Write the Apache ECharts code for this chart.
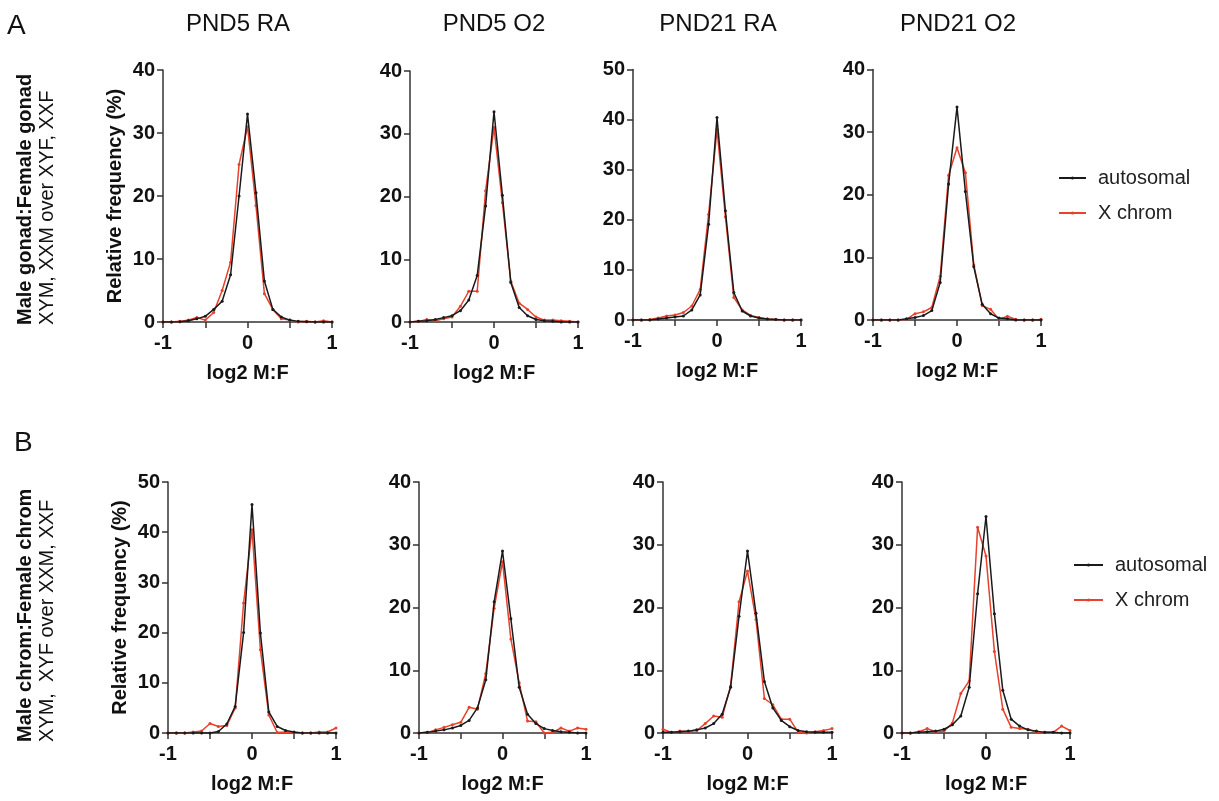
<!DOCTYPE html>
<html>
<head>
<meta charset="utf-8">
<script src="https://cdn.jsdelivr.net/npm/echarts@6/dist/echarts.min.js"></script>
<style>
html,body{margin:0;padding:0;background:#fff;}
#chart{width:1219px;height:801px;}
</style>
</head>
<body>
<div id="chart"></div>
<script>
// ---- data ----
const xBins = [-1, -0.9, -0.8, -0.7, -0.6, -0.5, -0.4, -0.3, -0.2, -0.1, 0, 0.1, 0.2, 0.3, 0.4, 0.5, 0.6, 0.7, 0.8, 0.9, 1];
const panelTitles = ['PND5 RA', 'PND5 O2', 'PND21 RA', 'PND21 O2'];
const seriesNames = ['autosomal', 'X chrom'];
const xTickLabels = ['-1', '', '0', '', '1'];
const yMaxes = [40, 40, 50, 40, 50, 40, 40, 40];

// Row A: gonad comparison
const gonadPnd5RaAuto  = [0, 0, 0.05, 0.2, 0.5, 0.9, 2.0, 3.3, 7.5, 20, 33, 20.5, 6.5, 2.0, 0.8, 0.3, 0.1, 0.05, 0, 0, 0];
const gonadPnd5RaX     = [0, 0, 0.1, 0.3, 0.7, 0.3, 1.5, 5.0, 9.5, 25, 31, 18.5, 4.5, 2.0, 0.5, 0.3, 0, 0.1, 0, 0.2, 0];
const gonadPnd5O2Auto  = [0, 0.1, 0.2, 0.4, 0.7, 1.0, 1.8, 3.5, 7.4, 18.5, 33.5, 20.2, 6.3, 2.3, 1.0, 0.4, 0.2, 0.1, 0, 0, 0];
const gonadPnd5O2X     = [0, 0.1, 0.4, 0.2, 0.5, 0.8, 2.5, 4.9, 4.9, 20.9, 31, 19, 6.5, 3.0, 2.0, 0.8, 0.3, 0.3, 0.2, 0.1, 0];
const gonadPnd21RaAuto = [0, 0, 0, 0.2, 0.4, 0.6, 0.8, 2.0, 5.0, 19.1, 40.4, 21.8, 5.5, 1.8, 0.8, 0.4, 0.2, 0.1, 0, 0, 0];
const gonadPnd21RaX    = [0, 0, 0.1, 0.4, 0.8, 1.0, 1.5, 2.8, 6.1, 21.1, 38, 20.6, 4.5, 2.0, 0.9, 0.5, 0.2, 0.1, 0, 0, 0];
const gonadPnd21O2Auto = [0, 0, 0, 0, 0.2, 0.4, 0.7, 1.5, 6.0, 21.7, 34, 20.5, 8.5, 2.5, 1.0, 0.3, 0.2, 0, 0, 0, 0];
const gonadPnd21O2X    = [0, 0, 0, 0, 0.1, 1.0, 1.3, 2.0, 7.0, 23.1, 27.5, 23.5, 8.8, 2.3, 1.7, 0.1, 0.6, 0.1, 0, 0, 0.1];

// Row B: chromosome comparison
const chromPnd5RaAuto  = [0, 0, 0, 0, 0, 0, 0.3, 1.8, 5.3, 20, 45.5, 19.9, 4.2, 1.3, 0.5, 0.2, 0, 0, 0, 0, 0];
const chromPnd5RaX     = [0, 0, 0, 0.2, 0.4, 1.9, 1.3, 1.5, 5.0, 25.9, 40.5, 16.6, 3.6, 0.1, 0.2, 0, 0, 0, 0.2, 0.2, 1.0];
const chromPnd5O2Auto  = [0, 0.1, 0.3, 0.5, 0.8, 1.2, 2.0, 4.0, 8.5, 20.9, 29, 18.2, 7.3, 3.0, 1.5, 0.7, 0.4, 0.2, 0.1, 0, 0];
const chromPnd5O2X     = [0, 0.1, 0.5, 0.9, 1.3, 1.7, 4.1, 3.8, 9.5, 19.9, 27.3, 15, 8.0, 1.9, 1.8, 0, 0.1, 0.8, 0.3, 0.8, 0.6];
const chromPnd21RaAuto = [0.1, 0.1, 0.2, 0.3, 0.5, 0.8, 1.5, 3.0, 7.3, 18.6, 29, 19.1, 8.2, 4.0, 2.0, 1.0, 0.4, 0.2, 0.1, 0.1, 0.1];
const chromPnd21RaX    = [0.6, 0.1, 0.3, 0.2, 0.4, 1.5, 2.7, 2.5, 7.5, 20.9, 25.8, 18.1, 5.5, 4.5, 2.2, 2.2, 0.1, 0, 0.2, 0.4, 0.7];
const chromPnd21O2Auto = [0, 0, 0.1, 0.2, 0.3, 0.6, 1.3, 2.7, 7.3, 22.2, 34.5, 19, 6.8, 2.2, 1.1, 0.5, 0.3, 0.1, 0.1, 0, 0];
const chromPnd21O2X    = [0, 0, 0.2, 0.7, 0.2, 0.3, 1.6, 6.3, 8.3, 32.8, 28.2, 13, 3.8, 0.9, 0.7, 0.6, 0.1, 0.1, 0.1, 1.1, 0.4];

const autoSets = [gonadPnd5RaAuto, gonadPnd5O2Auto, gonadPnd21RaAuto, gonadPnd21O2Auto,
                  chromPnd5RaAuto, chromPnd5O2Auto, chromPnd21RaAuto, chromPnd21O2Auto];
const xSets    = [gonadPnd5RaX, gonadPnd5O2X, gonadPnd21RaX, gonadPnd21O2X,
                  chromPnd5RaX, chromPnd5O2X, chromPnd21RaX, chromPnd21O2X];

// ---- layout ----
const FONT = "'Liberation Sans', Arial, sans-serif";
const AXC = '#333';
const BLACK = '#1a1a1a';
const RED = '#e8412c';
const grids = [
  {left: 163, top: 70,  width: 169, height: 252},
  {left: 410, top: 71,  width: 168, height: 251},
  {left: 633, top: 69.5, width: 168, height: 250.5},
  {left: 873, top: 69.5, width: 168, height: 250.5},
  {left: 168, top: 482, width: 168, height: 251},
  {left: 419, top: 482, width: 167, height: 251},
  {left: 663, top: 482, width: 169, height: 251},
  {left: 902, top: 482, width: 168, height: 251}
];

const boldText = {fontFamily: FONT, fontSize: 20, fontWeight: 'bold', color: '#111'};

const xAxes = grids.map((g, i) => ({
  gridIndex: i, type: 'value', min: -1, max: 1, interval: 0.5,
  axisLine: {show: true, onZero: false, lineStyle: {color: AXC, width: 1.5}},
  axisTick: {show: true, length: 6, lineStyle: {color: AXC, width: 1.5}},
  axisLabel: Object.assign({margin: 11, showMinLabel: true, showMaxLabel: true,
    formatter: v => xTickLabels[Math.round((v + 1) / 0.5)] || ''}, boldText),
  splitLine: {show: false},
  name: 'log2 M:F', nameLocation: 'middle', nameGap: 41,
  nameTextStyle: boldText
}));

const yAxes = grids.map((g, i) => ({
  gridIndex: i, type: 'value', min: 0, max: yMaxes[i], interval: 10,
  axisLine: {show: true, onZero: false, lineStyle: {color: AXC, width: 1.5}},
  axisTick: {show: true, length: 6, lineStyle: {color: AXC, width: 1.5}},
  axisLabel: Object.assign({margin: 8}, boldText),
  splitLine: {show: false},
  name: (i % 4 === 0) ? 'Relative frequency (%)' : '',
  nameLocation: 'middle', nameRotate: 90, nameGap: 38,
  nameTextStyle: boldText
}));

const series = [];
grids.forEach((g, i) => {
  series.push({
    name: seriesNames[1], type: 'line', xAxisIndex: i, yAxisIndex: i,
    data: xBins.map((x, k) => [x, xSets[i][k]]),
    symbol: 'circle', symbolSize: 3, showSymbol: true,
    lineStyle: {color: RED, width: 1.5}, itemStyle: {color: RED},
    emphasis: {disabled: true}, z: 2
  });
  series.push({
    name: seriesNames[0], type: 'line', xAxisIndex: i, yAxisIndex: i,
    data: xBins.map((x, k) => [x, autoSets[i][k]]),
    symbol: 'circle', symbolSize: 3, showSymbol: true,
    lineStyle: {color: BLACK, width: 1.5}, itemStyle: {color: BLACK},
    emphasis: {disabled: true}, z: 3
  });
});

function makeLegend(left, top, itemWidth) {
  return {
    data: seriesNames, orient: 'vertical', left: left, top: top,
    itemWidth: itemWidth, itemHeight: 4, itemGap: 15, padding: 0,
    textStyle: {fontFamily: FONT, fontSize: 20, color: '#222', padding: [0, 0, 0, 7]},
    selectedMode: false
  };
}

const graphics = [];
const titleX = [238, 494, 718, 958];
panelTitles.forEach((t, i) => graphics.push({
  type: 'text', x: titleX[i], y: 24,
  style: {text: t, font: "24px " + FONT, fill: '#111', align: 'center', verticalAlign: 'middle'}
}));
graphics.push({type: 'text', x: 7, y: 26, style: {text: 'A', font: "28px " + FONT, fill: '#111', align: 'left', verticalAlign: 'middle'}});
graphics.push({type: 'text', x: 14, y: 443, style: {text: 'B', font: "28px " + FONT, fill: '#111', align: 'left', verticalAlign: 'middle'}});
const rowLabels = [
  {bold: 'Male gonad:Female gonad', normal: 'XYM, XXM over XYF, XXF', y: 325},
  {bold: 'Male chrom:Female chrom', normal: 'XYM,  XYF over XXM, XXF', y: 742}
];
rowLabels.forEach(r => {
  graphics.push({type: 'text', x: 25, y: r.y, rotation: Math.PI / 2,
    style: {text: r.bold, font: "bold 20px " + FONT, fill: '#111', align: 'left', verticalAlign: 'middle'}});
  graphics.push({type: 'text', x: 47, y: r.y, rotation: Math.PI / 2,
    style: {text: r.normal, font: "20px " + FONT, fill: '#111', align: 'left', verticalAlign: 'middle'}});
});

const chart = echarts.init(document.getElementById('chart'), null, {renderer: 'canvas'});
chart.setOption({
  animation: false,
  backgroundColor: '#fff',
  grid: grids.map(g => Object.assign({containLabel: false}, g)),
  xAxis: xAxes,
  yAxis: yAxes,
  legend: [
    makeLegend(1058, 168, 27),
    makeLegend(1073, 555, 29)
  ],
  graphic: graphics,
  series: series
});
</script>
</body>
</html>
